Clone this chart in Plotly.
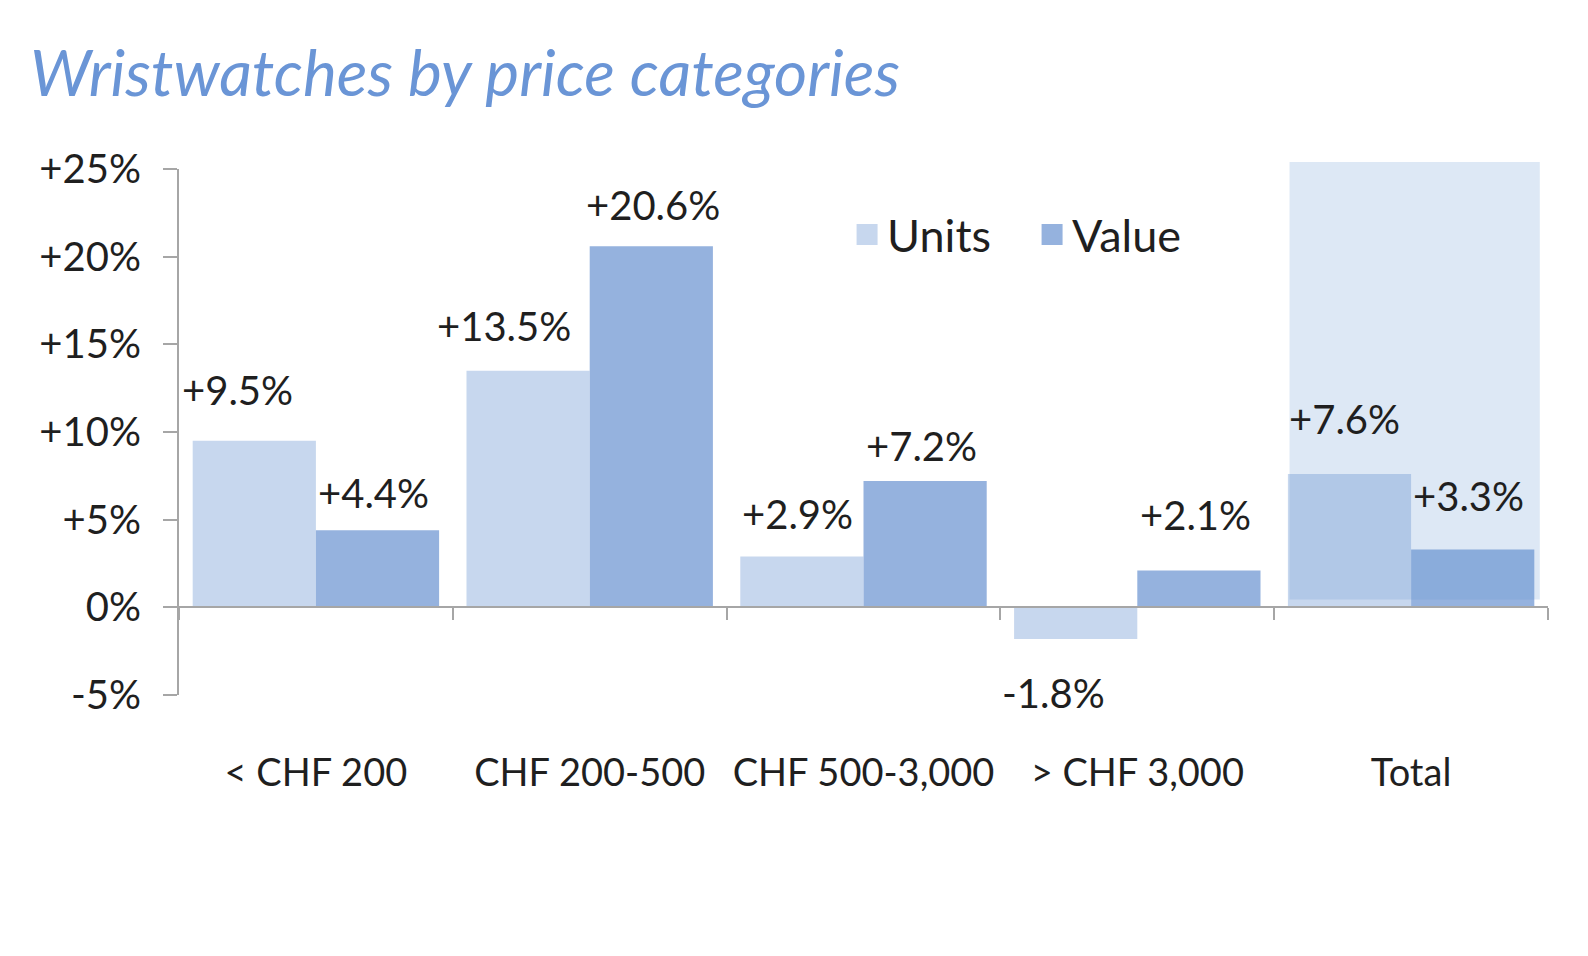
import plotly.graph_objects as go

# ---- data ----
categories = ["< CHF 200", "CHF 200-500", "CHF 500-3,000", "> CHF 3,000", "Total"]
units = [9.5, 13.5, 2.9, -1.8, 7.6]
value = [4.4, 20.6, 7.2, 2.1, 3.3]
y_ticks = [-5, 0, 5, 10, 15, 20, 25]
y_tick_text = ["-5%", "0%", "+5%", "+10%", "+15%", "+20%", "+25%"]
y_range = [-5, 25]

# ---- style ----
FONT = "Lato"
TXT = "#1f1f1f"
AX = "#a6a6a6"
C_UNITS = "#c7d7ee"
C_VALUE = "#95b2de"
BARGAP = 0.1
W, H = 1580, 948          # page body adds an 8px margin
# label nudges in px (dx, dy) relative to bar centre / bar end
unit_nudge = [(-17, 51), (-24, 45), (-4, 42), (-22, -54), (-5, 55)]
value_nudge = [(-4, 37), (2, 41), (-4, 35), (-3, 56), (-4, 53)]

fig = go.Figure()
fig.add_trace(go.Bar(name="Units", x=categories, y=units, legendgroup="u", showlegend=False,
                     marker=dict(color=C_UNITS, line=dict(width=0))))
fig.add_trace(go.Bar(name="Value", x=categories, y=value, legendgroup="v", showlegend=False,
                     marker=dict(color=C_VALUE, line=dict(width=0))))
# legend entries with larger square swatches
for nm, col, grp in (("Units", C_UNITS, "u"), ("Value", C_VALUE, "v")):
    fig.add_trace(go.Scatter(name=nm, x=[None], y=[None], mode="markers", legendgroup=grp,
                             marker=dict(symbol="square", size=16, color=col,
                                         line=dict(color=col, width=5)),
                             hoverinfo="skip"))

half = (1 - BARGAP) / 4
def fmt(v):
    return ("+" if v > 0 else "") + f"{v:.1f}%"

annotations = []
for i, (u, v) in enumerate(zip(units, value)):
    for val, off, (dx, dy) in ((u, -half, unit_nudge[i]), (v, half, value_nudge[i])):
        annotations.append(dict(
            x=i + off, y=val, xref="x", yref="y", text=fmt(val), showarrow=False,
            xanchor="center", yanchor="middle", xshift=dx, yshift=dy,
            font=dict(family=FONT, size=40, color=TXT)))

def to_paper(v):
    return (v - y_range[0]) / (y_range[1] - y_range[0])

fig.update_layout(
    width=W, height=H,
    margin=dict(l=171, r=40, t=161, b=261),
    paper_bgcolor="white", plot_bgcolor="white",
    barmode="group", bargap=BARGAP, bargroupgap=0,
    title=dict(text="Wristwatches by price categories", xref="container", yref="container",
               x=22 / W, xanchor="left", y=1 - 66 / H, yanchor="middle",
               font=dict(family=FONT, size=64, color="#6a95d6", style="italic")),
    legend=dict(orientation="h", x=0.488, y=0.875, xanchor="left", yanchor="middle",
                font=dict(family=FONT, size=45, color=TXT), bgcolor="rgba(0,0,0,0)",
                traceorder="normal", entrywidth=140),
    xaxis=dict(type="category", categoryorder="array", categoryarray=categories,
               range=[-0.5, 4.5], showline=False, ticks="", showgrid=False, zeroline=False,
               tickfont=dict(family=FONT, size=38, color=TXT), ticklabelstandoff=52),
    xaxis2=dict(type="category", categoryorder="array", categoryarray=categories,
                overlaying="x", anchor="free", position=to_paper(0), range=[-0.5, 4.5],
                showline=True, linecolor=AX, linewidth=2, ticks="outside", ticklen=12,
                tickwidth=2, tickcolor=AX, tickson="boundaries", showticklabels=False,
                showgrid=False, zeroline=False),
    yaxis=dict(range=y_range, tickvals=y_ticks, ticktext=y_tick_text, showgrid=False,
               zeroline=False, showline=True, linecolor=AX, linewidth=2, ticks="outside",
               ticklen=14, tickwidth=2, tickcolor=AX, ticklabelstandoff=14,
               tickfont=dict(family=FONT, size=40, color=TXT)),
    annotations=annotations,
    shapes=[dict(type="rect", xref="x", yref="paper", x0=4 - 0.444, x1=4 + 0.47,
                 y0=to_paper(0.45), y1=to_paper(25.4),
                 fillcolor="rgba(100,150,210,0.22)", line=dict(width=0), layer="above")],
)
# dummy trace so xaxis2 is rendered
fig.add_trace(go.Scatter(x=[categories[0]], y=[None], xaxis="x2", showlegend=False, hoverinfo="skip"))

fig.write_html("out.html")
